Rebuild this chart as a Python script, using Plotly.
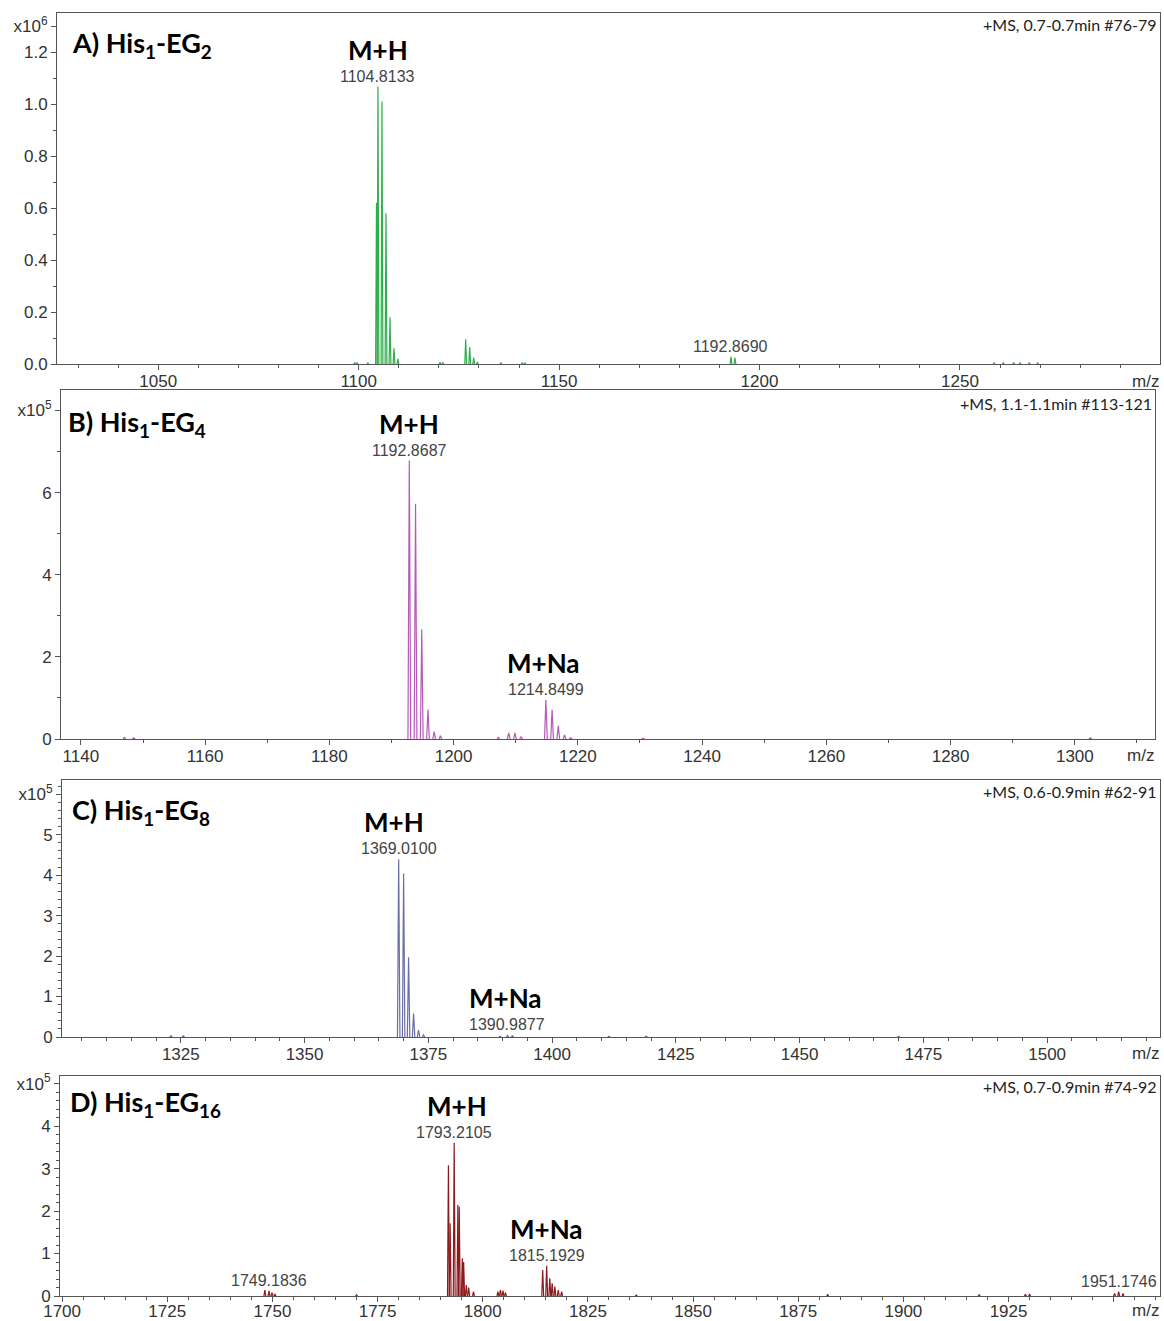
import plotly.graph_objects as go

W, H = 1164, 1321

# ---------------- spectra: peak m/z and intensity (in units of the axis exponent) -------------
# A) His1-EG2, intensity x10^6
a_mz = [1099.0, 1099.6, 1102.3, 1104.45, 1104.8133, 1105.82, 1106.82, 1107.82, 1108.82, 1109.8,
        1120.3, 1121.0, 1126.7, 1127.7, 1128.7, 1129.6, 1135.5, 1140.8, 1141.5,
        1192.869, 1193.87, 1258.5, 1260.8, 1263.4, 1265.0, 1267.3, 1269.4]
a_int = [0.006, 0.005, 0.004, 0.62, 1.067, 1.010, 0.58, 0.18, 0.06, 0.02,
         0.007, 0.006, 0.095, 0.065, 0.025, 0.008, 0.004, 0.005, 0.004,
         0.028, 0.024, 0.004, 0.005, 0.006, 0.005, 0.006, 0.004]

# B) His1-EG4, intensity x10^5
b_mz = [1147.0, 1148.5, 1192.8687, 1193.87, 1194.87, 1195.87, 1196.87, 1197.87,
        1207.2, 1208.87, 1209.87, 1210.87, 1214.8499, 1215.85, 1216.85, 1217.85, 1218.85,
        1230.5, 1302.5]
b_int = [0.04, 0.03, 6.78, 5.73, 2.67, 0.72, 0.18, 0.08,
         0.04, 0.15, 0.15, 0.06, 0.95, 0.71, 0.32, 0.10, 0.03,
         0.02, 0.03]

# C) His1-EG8, intensity x10^5
c_mz = [1323.0, 1325.5, 1369.0100, 1370.01, 1371.01, 1372.02, 1373.02, 1374.02,
        1389.5, 1390.9877, 1391.99, 1411.5, 1419.0, 1470.0]
c_int = [0.03, 0.03, 4.39, 4.04, 1.97, 0.58, 0.17, 0.05,
         0.02, 0.04, 0.03, 0.02, 0.02, 0.015]

# D) His1-EG16, intensity x10^5
d_mz = [1748.2, 1749.1836, 1749.9, 1750.6, 1770.0,
        1791.84, 1792.25, 1793.2105, 1794.09, 1794.41, 1795.14, 1795.46, 1796.1, 1796.66, 1797.8,
        1803.6, 1804.2, 1804.8, 1805.4,
        1814.25, 1815.1929, 1815.94, 1816.5, 1817.15, 1817.95, 1818.75,
        1836.5, 1882.0, 1918.0, 1929.0, 1930.0, 1950.2, 1951.1746, 1952.2]
d_int = [0.14, 0.12, 0.08, 0.05, 0.03,
         3.08, 1.71, 3.61, 2.14, 2.10, 0.89, 0.80, 0.26, 0.20, 0.10,
         0.10, 0.14, 0.13, 0.08,
         0.61, 0.71, 0.42, 0.30, 0.22, 0.14, 0.10,
         0.02, 0.04, 0.03, 0.04, 0.05, 0.06, 0.10, 0.06]

panel_titles = ["A) His<sub>1</sub>-EG<sub>2</sub>", "B) His<sub>1</sub>-EG<sub>4</sub>",
                "C) His<sub>1</sub>-EG<sub>8</sub>", "D) His<sub>1</sub>-EG<sub>16</sub>"]
scan_info = ["+MS, 0.7-0.7min #76-79", "+MS, 1.1-1.1min #113-121",
             "+MS, 0.6-0.9min #62-91", "+MS, 0.7-0.9min #74-92"]
colors = ["#2fae4c", "#b65ab8", "#6a6ea8", "#8c1a1c"]


def px(x):
    return x / W


def py(y):
    return 1 - y / H


def profile(mz, inten, hw):
    """Narrow triangular profile for every peak, separated by gaps."""
    xs, ys = [], []
    for m, h in sorted(zip(mz, inten)):
        xs += [m - hw, m, m + hw, None]
        ys += [0, h, 0, None]
    return xs, ys


fig = go.Figure()

spectra = [(a_mz, a_int, 0.22), (b_mz, b_int, 0.22), (c_mz, c_int, 0.25), (d_mz, d_int, 0.22)]
for i, (mz, it, hw) in enumerate(spectra):
    xs, ys = profile(mz, it, hw)
    sfx = "" if i == 0 else str(i + 1)
    fig.add_trace(go.Scatter(x=xs, y=ys, mode="lines", line=dict(color=colors[i], width=1.2),
                             xaxis="x" + sfx, yaxis="y" + sfx, showlegend=False, hoverinfo="skip"))

# panel frames in pixel coordinates: left, right, top, bottom
frames = [(57, 1160, 13, 364), (61, 1155, 390, 739), (62, 1160, 780, 1037), (60, 1160, 1076, 1296)]
xranges = [[1024.75, 1299.9], [1136.8, 1312.9], [1301.0, 1522.8], [1699.5, 1961.0]]
xticks = [[1050, 1100, 1150, 1200, 1250],
          [1140, 1160, 1180, 1200, 1220, 1240, 1260, 1280, 1300],
          [1325, 1350, 1375, 1400, 1425, 1450, 1475, 1500],
          [1700, 1725, 1750, 1775, 1800, 1825, 1850, 1875, 1900, 1925, 1950]]
xticktext = [[str(v) for v in t] for t in xticks]
xticktext[3][-1] = ""
xminor = [(1000, 10), (1100, 10), (1300, 5), (1700, 5)]
xstandoff = [-3, -3, -3, -5]
yranges = [[0, 1.35], [0, 8.5], [0, 6.35], [0, 5.18]]
yticks = [[0, 0.2, 0.4, 0.6, 0.8, 1.0, 1.2, 1.3], [0, 2, 4, 6, 8], [0, 1, 2, 3, 4, 5, 6], [0, 1, 2, 3, 4, 5]]
yticktext = [["0.0", "0.2", "0.4", "0.6", "0.8", "1.0", "1.2", "x10<sup>6</sup>"],
             ["0", "2", "4", "6", "x10<sup>5</sup>"],
             ["0", "1", "2", "3", "4", "5", "x10<sup>5</sup>"],
             ["0", "1", "2", "3", "4", "x10<sup>5</sup>"]]
yminor = [0.1, 1, 0.2, 0.2]

axis_font = dict(family="Liberation Sans", size=17, color="#333")
line_col = "#555"

layout = dict(width=W, height=H, margin=dict(l=0, r=0, t=0, b=0, autoexpand=False),
              paper_bgcolor="white", plot_bgcolor="white", showlegend=False)

for i in range(4):
    l, r, t, b = frames[i]
    sfx = "" if i == 0 else str(i + 1)
    layout["xaxis" + sfx] = dict(
        domain=[px(l), px(r)], anchor="y" + sfx, range=xranges[i], automargin=False,
        tickmode="array", tickvals=xticks[i], ticktext=xticktext[i],
        ticks="outside", ticklen=5, tickcolor=line_col, tickfont=axis_font,
        ticklabelstandoff=xstandoff[i],
        minor=dict(tickmode="linear", tick0=xminor[i][0], dtick=xminor[i][1],
                   ticks="outside", ticklen=3, tickcolor=line_col),
        showline=True, linecolor=line_col, linewidth=1, mirror=True,
        showgrid=False, zeroline=False, fixedrange=True)
    layout["yaxis" + sfx] = dict(
        domain=[py(b), py(t)], anchor="x" + sfx, range=yranges[i], automargin=False,
        tickmode="array", tickvals=yticks[i], ticktext=yticktext[i],
        ticks="outside", ticklen=5, tickcolor=line_col, tickfont=axis_font,
        minor=dict(tickmode="linear", tick0=0, dtick=yminor[i],
                   ticks="outside", ticklen=3, tickcolor=line_col),
        showline=True, linecolor=line_col, linewidth=1, mirror=True,
        showgrid=False, zeroline=False, fixedrange=True)

fig.update_layout(**layout)

annotations = []
title_pos = [(70, 45), (66, 423), (70, 812), (68, 1103)]
info_y = [25, 403, 791, 1086]
mz_label_y = [381, 755, 1053, 1310]
for i in range(4):
    l, r, t, b = frames[i]
    annotations.append(dict(xref="paper", yref="paper", x=px(title_pos[i][0]), y=py(title_pos[i][1]),
                            xanchor="left", yanchor="middle", showarrow=False,
                            text="<b>" + panel_titles[i] + "</b>",
                            font=dict(family="Lato", size=27, color="black")))
    annotations.append(dict(xref="paper", yref="paper", x=px(r - 1), y=py(info_y[i]),
                            xanchor="right", yanchor="middle", showarrow=False, text=scan_info[i],
                            font=dict(family="Lato", size=16, color="#222")))
    annotations.append(dict(xref="paper", yref="paper", x=px(r + 1), y=py(mz_label_y[i]),
                            xanchor="right", yanchor="middle", showarrow=False, text="m/z",
                            font=axis_font))

# labelled peaks: (panel, m/z list, intensity list, peak m/z, ion label, x offset of ion label)
labelled = [
    (0, a_mz, a_int, 1104.8133, "M+H", 0),
    (0, a_mz, a_int, 1192.869, None, 0),
    (1, b_mz, b_int, 1192.8687, "M+H", 0),
    (1, b_mz, b_int, 1214.8499, "M+Na", -2),
    (2, c_mz, c_int, 1369.0100, "M+H", -5),
    (2, c_mz, c_int, 1390.9877, "M+Na", -2),
    (3, d_mz, d_int, 1793.2105, "M+H", 3),
    (3, d_mz, d_int, 1815.1929, "M+Na", 0),
    (3, d_mz, d_int, 1749.1836, None, 0),
    (3, d_mz, d_int, 1951.1746, None, 0),
]
digits = {1192.869: "1192.8690", 1369.0100: "1369.0100"}
for panel, mzs, ints, m, ion, dx in labelled:
    sfx = "" if panel == 0 else str(panel + 1)
    h = ints[mzs.index(m)]
    txt = digits.get(m, f"{m:.4f}")
    annotations.append(dict(xref="x" + sfx, yref="y" + sfx, x=m, y=h, xanchor="center",
                            yanchor="bottom", yshift=0, showarrow=False, text=txt,
                            font=dict(family="Liberation Sans", size=16, color="#444")))
    if ion:
        annotations.append(dict(xref="x" + sfx, yref="y" + sfx, x=m, y=h, xanchor="center",
                                yanchor="bottom", yshift=19, xshift=dx, showarrow=False,
                                text="<b>" + ion + "</b>",
                                font=dict(family="Lato", size=26, color="black")))

fig.update_layout(annotations=annotations)
fig.write_html("out.html")
